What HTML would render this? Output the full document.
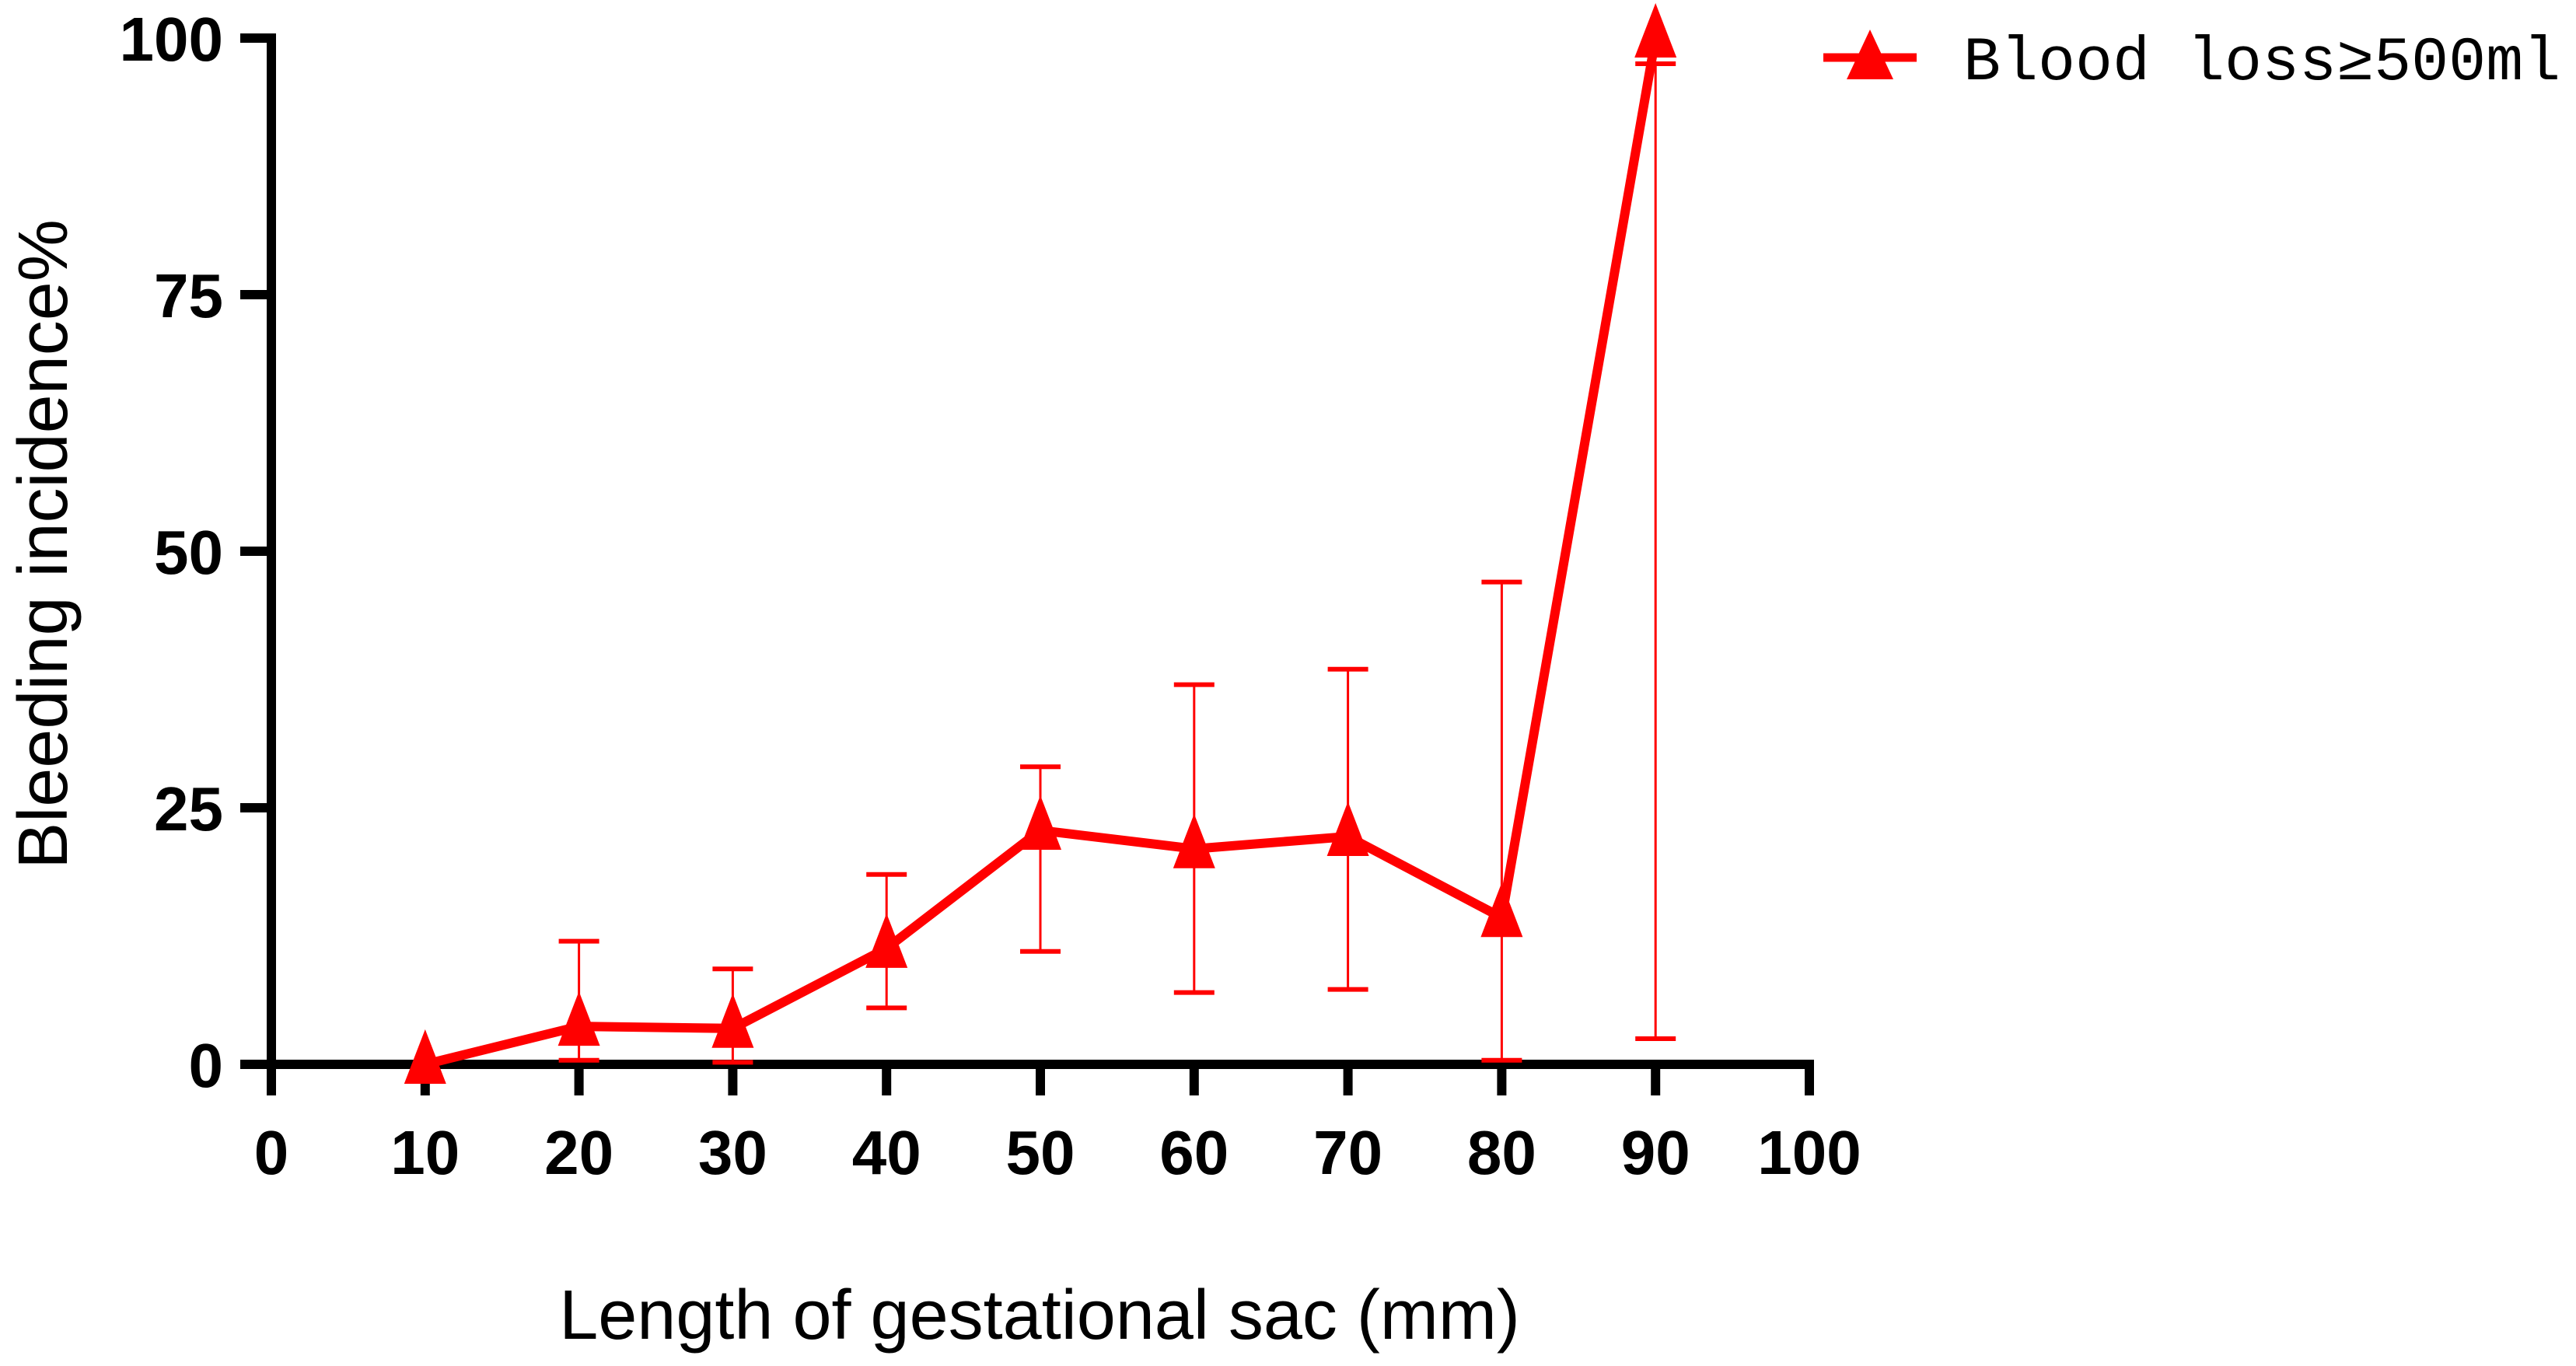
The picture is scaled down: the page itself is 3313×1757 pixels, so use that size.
<!DOCTYPE html>
<html><head><meta charset="utf-8"><style>
html,body{margin:0;padding:0;background:#fff;}
svg{display:block;}
</style></head><body>
<svg id="chart" width="3313" height="1757" viewBox="0 0 3313 1757" xmlns="http://www.w3.org/2000/svg">
<g id="axes"></g>
<g id="series"></g>
<text x="62" y="700" transform="rotate(-90 62 700)" text-anchor="middle" dominant-baseline="middle" font-family="Liberation Sans, sans-serif" font-size="90" fill="#000">Bleeding incidence%</text>
<text x="1337" y="1722" text-anchor="middle" font-family="Liberation Sans, sans-serif" font-size="90" fill="#000">Length of gestational sac (mm)</text>
<g>
<line x1="2345" y1="74" x2="2465" y2="74" stroke="#ff0000" stroke-width="11"/>
<polygon points="2405,38 2375,102 2435,102" fill="#ff0000"/>
<text x="2525" y="102" font-family="Liberation Mono, 'Noto Sans CJK SC', monospace" font-size="80" fill="#000">Blood loss≥500ml</text>
</g>
</svg>
<script>
const xValues = [10, 20, 30, 40, 50, 60, 70, 80, 90];
const yValues = [0, 3.7, 3.5, 11.3, 22.8, 21, 22.2, 14.3, 100];
const errUpper = [null, 12, 9.3, 18.5, 29, 37, 38.5, 47, 97.5];
const errLower = [null, 0.4, 0.2, 5.5, 11, 7, 7.3, 0.4, 2.5];
const xTicks = [0, 10, 20, 30, 40, 50, 60, 70, 80, 90, 100];
const yTicks = [0, 25, 50, 75, 100];

const NS = 'http://www.w3.org/2000/svg';
const X0 = 349, X1 = 2327, Y0 = 1369, Y1 = 49;
function sx(v){ return X0 + (v/100)*(X1-X0); }
function sy(v){ return Y0 - (v/100)*(Y0-Y1); }
function mk(tag, attrs, parent){ const e=document.createElementNS(NS,tag); for(const k in attrs) e.setAttribute(k,attrs[k]); parent.appendChild(e); return e; }

const axes = document.getElementById('axes');
const series = document.getElementById('series');

let e = mk('line',{x1:X0,y1:Y1-6,x2:X0,y2:Y0+6,stroke:'#000','stroke-width':12},axes);


e = mk('line',{x1:X0-40,y1:Y0,x2:X1+6,y2:Y0,stroke:'#000','stroke-width':12},axes);



yTicks.forEach(t=>{
  const y = sy(t);
  let l = mk('line',{x1:X0-40,y1:y,x2:X0,y2:y,stroke:'#000','stroke-width':12},axes);
  
  
  let tx = mk('text',{x:X0-62,y:y+29,'text-anchor':'end','font-family':'Liberation Sans, sans-serif','font-size':80,'font-weight':'bold',fill:'#000'},axes);
  tx.textContent = t;
  
  
});
xTicks.forEach(t=>{
  const x = sx(t);
  let l = mk('line',{x1:x,y1:Y0,x2:x,y2:Y0+40,stroke:'#000','stroke-width':12},axes);
  
  
  let tx = mk('text',{x:x,y:1510,'text-anchor':'middle','font-family':'Liberation Sans, sans-serif','font-size':80,'font-weight':'bold',fill:'#000'},axes);
  tx.textContent = t;
  
  
});

xValues.forEach((xv,i)=>{
  if(errUpper[i]===null) return;
  const x = sx(xv);
  let g = mk('g',{stroke:'#ff0000','stroke-width':3},series);
  
  
  mk('line',{x1:x,y1:sy(errUpper[i]),x2:x,y2:sy(errLower[i])},g);
  mk('line',{x1:x-26,y1:sy(errUpper[i]),x2:x+26,y2:sy(errUpper[i]),'stroke-width':6},g);
  mk('line',{x1:x-26,y1:sy(errLower[i]),x2:x+26,y2:sy(errLower[i]),'stroke-width':6},g);
});

const pts = xValues.map((xv,i)=>sx(xv)+','+sy(yValues[i])).join(' ');
let pl = mk('polyline',{points:pts,fill:'none',stroke:'#ff0000','stroke-width':12,'stroke-linejoin':'miter'},series);



xValues.forEach((xv,i)=>{
  const x = sx(xv), y = sy(yValues[i]);
  let p = mk('polygon',{points:`${x},${y-45} ${x-27},${y+25} ${x+27},${y+25}`,fill:'#ff0000'},series);
  
  
});
</script>
</body></html>
